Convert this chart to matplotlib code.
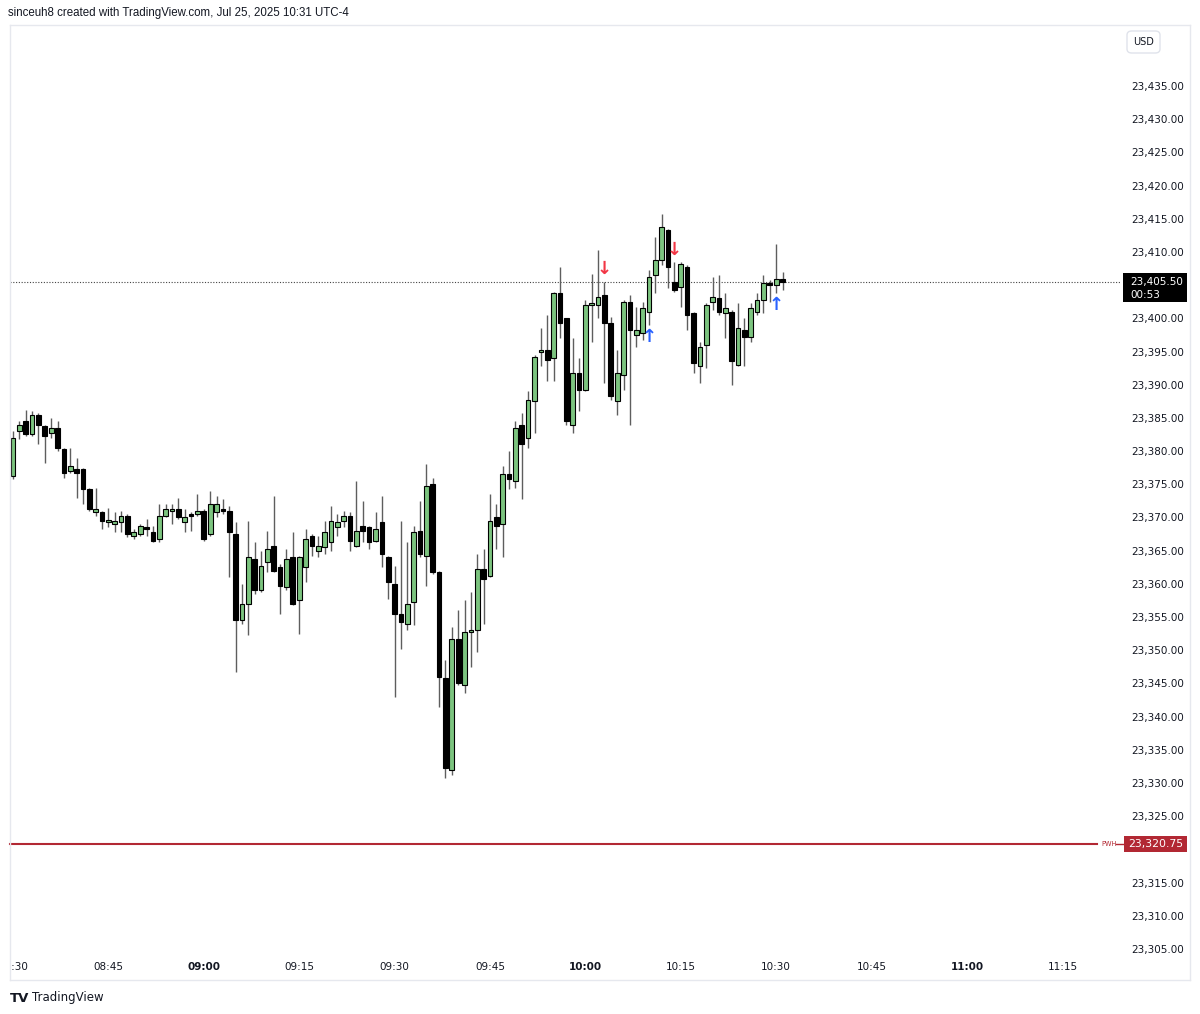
import matplotlib.pyplot as plt
from matplotlib.patches import Rectangle, FancyBboxPatch
from matplotlib.transforms import blended_transform_factory

# ---- 1 minute candles from 08:30 (index 0) to 10:31 ----
opens = [23376.25, 23383.0, 23384.5, 23382.5, 23385.5, 23383.75, 23382.75, 23383.5, 23380.25, 23377.0,
         23377.25, 23377.25, 23374.25, 23370.75, 23370.75, 23369.25, 23369.0, 23369.25, 23370.25, 23367.25,
         23367.5, 23368.5, 23367.75, 23366.75, 23370.25, 23371.0, 23371.25, 23369.25, 23370.5, 23370.5,
         23371.0, 23367.5, 23370.75, 23371.25, 23371.0, 23367.5, 23354.5, 23357.0, 23363.75, 23359.0,
         23363.25, 23365.75, 23362.5, 23359.5, 23364.0, 23357.5, 23362.5, 23367.25, 23365.0, 23365.5,
         23366.25, 23368.5, 23369.5, 23370.25, 23365.75, 23368.75, 23368.5, 23366.5, 23369.25, 23364.0,
         23360.0, 23355.5, 23354.0, 23357.25, 23368.0, 23364.25, 23375.0, 23361.75, 23345.75, 23332.0,
         23351.75, 23344.75, 23352.75, 23353.0, 23362.25, 23361.25, 23370.0, 23369.0, 23376.5, 23375.5,
         23384.0, 23382.0, 23387.5, 23395.0, 23395.25, 23394.0, 23403.75, 23400.0, 23384.0, 23391.75,
         23389.25, 23402.0, 23402.0, 23403.5, 23399.25, 23387.5, 23391.5, 23402.5, 23397.5, 23397.75,
         23401.0, 23406.5, 23408.75, 23413.25, 23405.5, 23404.75, 23407.75, 23400.75, 23392.75, 23396.0,
         23402.5, 23403.0, 23400.75, 23401.0, 23393.0, 23398.25, 23397.25, 23401.0, 23402.75, 23405.25,
         23405.0, 23406.0]
highs = [23383.0, 23384.5, 23386.25, 23386.0, 23385.75, 23384.0, 23385.0, 23384.5, 23380.5, 23380.5,
         23379.0, 23377.5, 23374.5, 23374.5, 23371.0, 23371.5, 23370.75, 23371.0, 23370.5, 23368.25,
         23369.0, 23369.75, 23368.75, 23372.0, 23372.0, 23372.0, 23373.0, 23371.25, 23370.75, 23373.5,
         23371.25, 23374.0, 23373.25, 23372.75, 23371.75, 23369.25, 23360.0, 23369.5, 23366.25, 23365.0,
         23368.0, 23373.25, 23363.0, 23365.25, 23367.75, 23364.25, 23368.25, 23367.5, 23367.25, 23369.5,
         23371.75, 23370.5, 23371.0, 23370.75, 23375.5, 23372.5, 23368.75, 23370.75, 23373.25, 23364.25,
         23362.75, 23369.5, 23366.25, 23368.75, 23372.5, 23378.0, 23376.0, 23362.0, 23348.5, 23353.5,
         23356.0, 23357.5, 23358.75, 23364.5, 23365.25, 23373.5, 23372.0, 23377.75, 23380.0, 23384.5,
         23385.75, 23389.0, 23394.5, 23398.5, 23400.5, 23404.0, 23407.75, 23400.0, 23397.0, 23394.0,
         23402.75, 23406.75, 23410.25, 23405.5, 23400.25, 23395.25, 23402.75, 23403.5, 23401.75, 23402.5,
         23407.25, 23412.25, 23415.75, 23413.5, 23408.5, 23408.5, 23408.0, 23401.0, 23396.5, 23402.25,
         23406.25, 23406.5, 23403.75, 23401.25, 23402.25, 23400.0, 23402.25, 23403.75, 23406.5, 23405.75,
         23411.25, 23407.0]
lows = [23375.75, 23381.75, 23382.25, 23382.25, 23381.0, 23378.25, 23382.0, 23380.0, 23376.0, 23376.75,
        23373.0, 23372.0, 23371.0, 23370.25, 23368.25, 23368.5, 23367.75, 23367.75, 23367.0, 23366.75,
        23367.25, 23367.25, 23366.25, 23366.25, 23370.0, 23369.0, 23369.75, 23367.75, 23368.0, 23370.25,
        23366.5, 23367.25, 23370.0, 23370.5, 23361.0, 23346.75, 23354.0, 23352.25, 23358.5, 23358.75,
        23361.75, 23361.75, 23355.5, 23359.0, 23356.75, 23352.5, 23360.25, 23364.25, 23364.0, 23364.5,
        23365.0, 23367.25, 23368.5, 23365.0, 23365.5, 23366.25, 23365.25, 23366.25, 23362.5, 23357.75,
        23343.0, 23350.25, 23353.0, 23353.75, 23364.0, 23359.75, 23361.5, 23341.5, 23330.75, 23331.25,
        23344.75, 23343.5, 23347.5, 23349.75, 23354.0, 23361.0, 23365.25, 23364.0, 23374.25, 23374.5,
        23372.75, 23380.5, 23382.75, 23392.75, 23390.5, 23390.5, 23397.0, 23384.0, 23382.75, 23386.0,
        23389.0, 23396.5, 23400.0, 23390.25, 23387.75, 23385.5, 23389.25, 23384.0, 23395.75, 23396.75,
        23399.0, 23403.75, 23408.0, 23404.5, 23404.0, 23401.75, 23398.25, 23391.75, 23390.25, 23392.5,
        23401.25, 23400.5, 23397.0, 23390.0, 23392.75, 23392.75, 23396.5, 23400.5, 23400.75, 23402.5,
        23403.75, 23404.25]
closes = [23382.0, 23384.0, 23382.5, 23385.5, 23384.0, 23382.25, 23383.5, 23380.5, 23376.75, 23377.75,
          23376.75, 23374.25, 23371.25, 23371.25, 23369.5, 23369.25, 23369.5, 23370.25, 23367.5, 23367.75,
          23368.75, 23368.25, 23366.5, 23370.25, 23371.25, 23371.0, 23370.0, 23370.0, 23370.25, 23371.0,
          23366.75, 23372.0, 23372.0, 23371.0, 23367.75, 23354.5, 23357.0, 23364.0, 23359.0, 23362.75,
          23365.25, 23362.0, 23359.75, 23363.75, 23357.0, 23364.0, 23366.75, 23365.75, 23365.75, 23367.75,
          23369.5, 23369.25, 23370.25, 23366.5, 23368.0, 23368.0, 23366.25, 23368.25, 23364.5, 23360.25,
          23355.5, 23354.25, 23357.0, 23367.75, 23364.5, 23374.75, 23361.75, 23346.0, 23332.25, 23351.75,
          23345.0, 23352.75, 23353.0, 23362.25, 23360.75, 23369.5, 23368.75, 23376.5, 23375.75, 23383.5,
          23381.0, 23387.75, 23394.25, 23395.25, 23393.75, 23403.75, 23399.25, 23384.5, 23391.75, 23389.25,
          23402.0, 23402.25, 23403.25, 23399.25, 23388.25, 23391.75, 23402.5, 23398.25, 23398.25, 23401.5,
          23406.25, 23408.75, 23413.75, 23407.75, 23404.25, 23408.25, 23400.5, 23393.25, 23395.75, 23402.0,
          23403.25, 23401.0, 23401.5, 23393.5, 23398.5, 23397.25, 23401.5, 23402.75, 23405.25, 23405.0,
          23406.0, 23405.5]

# signal arrows (candle index, price)
sell_idx = [93, 104]
sell_px = [23407.4, 23410.3]
buy_idx = [100, 120]
buy_px = [23397.2, 23402.0]

last_price = 23405.50
countdown = "00:53"
pwh = 23320.75

price_ticks = [23305 + 5 * k for k in range(27) if 23305 + 5 * k not in (23320, 23405)]
time_labels = ["08:30", "08:45", "09:00", "09:15", "09:30", "09:45", "10:00",
               "10:15", "10:30", "10:45", "11:00", "11:15"]
time_pos = [15 * k for k in range(len(time_labels))]

GREEN = "#7cc47f"
WICK = "#5e5e5e"
TXT = "#131722"
RED = "#b22833"
FONT = "DejaVu Sans"

W, H = 1200, 1014
fig = plt.figure(figsize=(W / 100, H / 100), dpi=100)
fig.patch.set_facecolor("white")
ax = fig.add_axes([10 / W, 1 - 980 / H, 1110 / W, 953 / H])
ax.set_xlim(-0.47, 174.06)
ax.set_ylim(23300.32, 23443.89)
for s in ax.spines.values():
    s.set_visible(False)

# candles
for i in range(len(opens)):
    o, h, l, c = opens[i], highs[i], lows[i], closes[i]
    ax.vlines(i, l, h, color=WICK, lw=1.0, zorder=2)
    up = c >= o
    lo = min(o, c)
    ht = max(abs(c - o), 0.3)
    ax.bar(i, ht, bottom=lo, width=0.74, color=GREEN if up else "black",
           edgecolor="black", linewidth=0.8, zorder=3)

# arrows
for i, p in zip(sell_idx, sell_px):
    ax.text(i, p, "↓", color="#f23645", fontsize=13, ha="center", va="center",
            fontweight="bold", zorder=4)
for i, p in zip(buy_idx, buy_px):
    ax.text(i, p, "↑", color="#2962ff", fontsize=13, ha="center", va="center",
            fontweight="bold", zorder=4)

# last price dotted line and PWH line
ax.axhline(last_price, color="#444444", lw=0.8, ls=(0, (1, 1.5)), zorder=1)
ax.plot([-0.47, (1097 - 13) / 6.36], [pwh, pwh], color=RED, lw=1.5, zorder=1,
        clip_on=False)

# price scale
ax.yaxis.tick_right()
ax.set_yticks(price_ticks)
ax.set_yticklabels([f"{v:,.2f}" for v in price_ticks])
ax.tick_params(axis="y", length=0, pad=8, labelsize=7.5, labelcolor=TXT)
for lab in ax.get_yticklabels():
    lab.set_family(FONT)
ax.set_xticks([])

# price labels on the scale
fig.canvas.draw()


def ypix(p):
    # data price -> figure pixel row from the top
    return H - ax.transData.transform((0, p))[1]


yl = ypix(last_price)
fig.add_artist(Rectangle((1123 / W, 1 - (yl + 20) / H), 64 / W, 29 / H,
                         fc="black", ec="none", transform=fig.transFigure))
fig.text(1130 / W, 1 - (yl + 0.5) / H, f"{last_price:,.2f}", ha="left", va="center",
         color="white", fontsize=7.5, family=FONT)
fig.text(1130 / W, 1 - (yl + 13) / H, countdown, ha="left", va="center",
         color="white", fontsize=7.5, family=FONT)

yp = ypix(pwh)
fig.add_artist(Rectangle((1124 / W, 1 - (yp + 8) / H), 63 / W, 16 / H,
                         fc=RED, ec="none", transform=fig.transFigure))
fig.text(1155.5 / W, 1 - yp / H, f"{pwh:,.2f}", ha="center", va="center",
         color="white", fontsize=7.8, family=FONT)
fig.text(1109 / W, 1 - yp / H, "PWH", ha="center", va="center",
         color=RED, fontsize=4.8, family=FONT)
fig.add_artist(plt.Line2D([1116 / W, 1124 / W], [1 - yp / H, 1 - yp / H], color=RED, lw=1))

# time scale (inside the frame)
trx = blended_transform_factory(ax.transData, ax.transAxes)
for lab, pos in zip(time_labels, time_pos):
    bold = lab.endswith(":00")
    ax.text(pos, 13 / 953, lab, transform=trx, ha="center", va="center",
            fontsize=7.5, family=FONT, color=TXT,
            fontweight="bold" if bold else "normal", clip_on=True)

# frame lines
fc = "#e6e8ee"
fig.add_artist(plt.Line2D([10 / W, 1190 / W], [1 - 25 / H, 1 - 25 / H], color=fc, lw=1))
fig.add_artist(plt.Line2D([10 / W, 1190 / W], [1 - 980 / H, 1 - 980 / H], color=fc, lw=1))
fig.add_artist(plt.Line2D([10 / W, 10 / W], [1 - 980 / H, 1 - 25 / H], color=fc, lw=1))
fig.add_artist(plt.Line2D([1190 / W, 1190 / W], [1 - 980 / H, 1 - 25 / H], color=fc, lw=1))

# USD box
fig.add_artist(FancyBboxPatch((1127 / W, 1 - 53 / H), 33 / W, 22 / H,
                              boxstyle="round,pad=0,rounding_size=0.004",
                              fc="white", ec="#e0e3eb", lw=1, transform=fig.transFigure))
fig.text(1143.5 / W, 1 - 42 / H, "USD", ha="center", va="center", fontsize=7,
         family=FONT, color=TXT)

# header and footer
fig.text(8 / W, 1 - 13 / H, "sinceuh8 created with TradingView.com, Jul 25, 2025 10:31 UTC-4",
         ha="left", va="center", fontsize=8.3, family="Liberation Sans", color=TXT)
fig.text(10 / W, 1 - 998 / H, "TV", ha="left", va="center", fontsize=9.5,
         fontweight="bold", family=FONT, color=TXT)
fig.text(32 / W, 1 - 998 / H, "TradingView", ha="left", va="center", fontsize=8.5,
         family=FONT, color=TXT)

fig.savefig("out.png", dpi=100)
